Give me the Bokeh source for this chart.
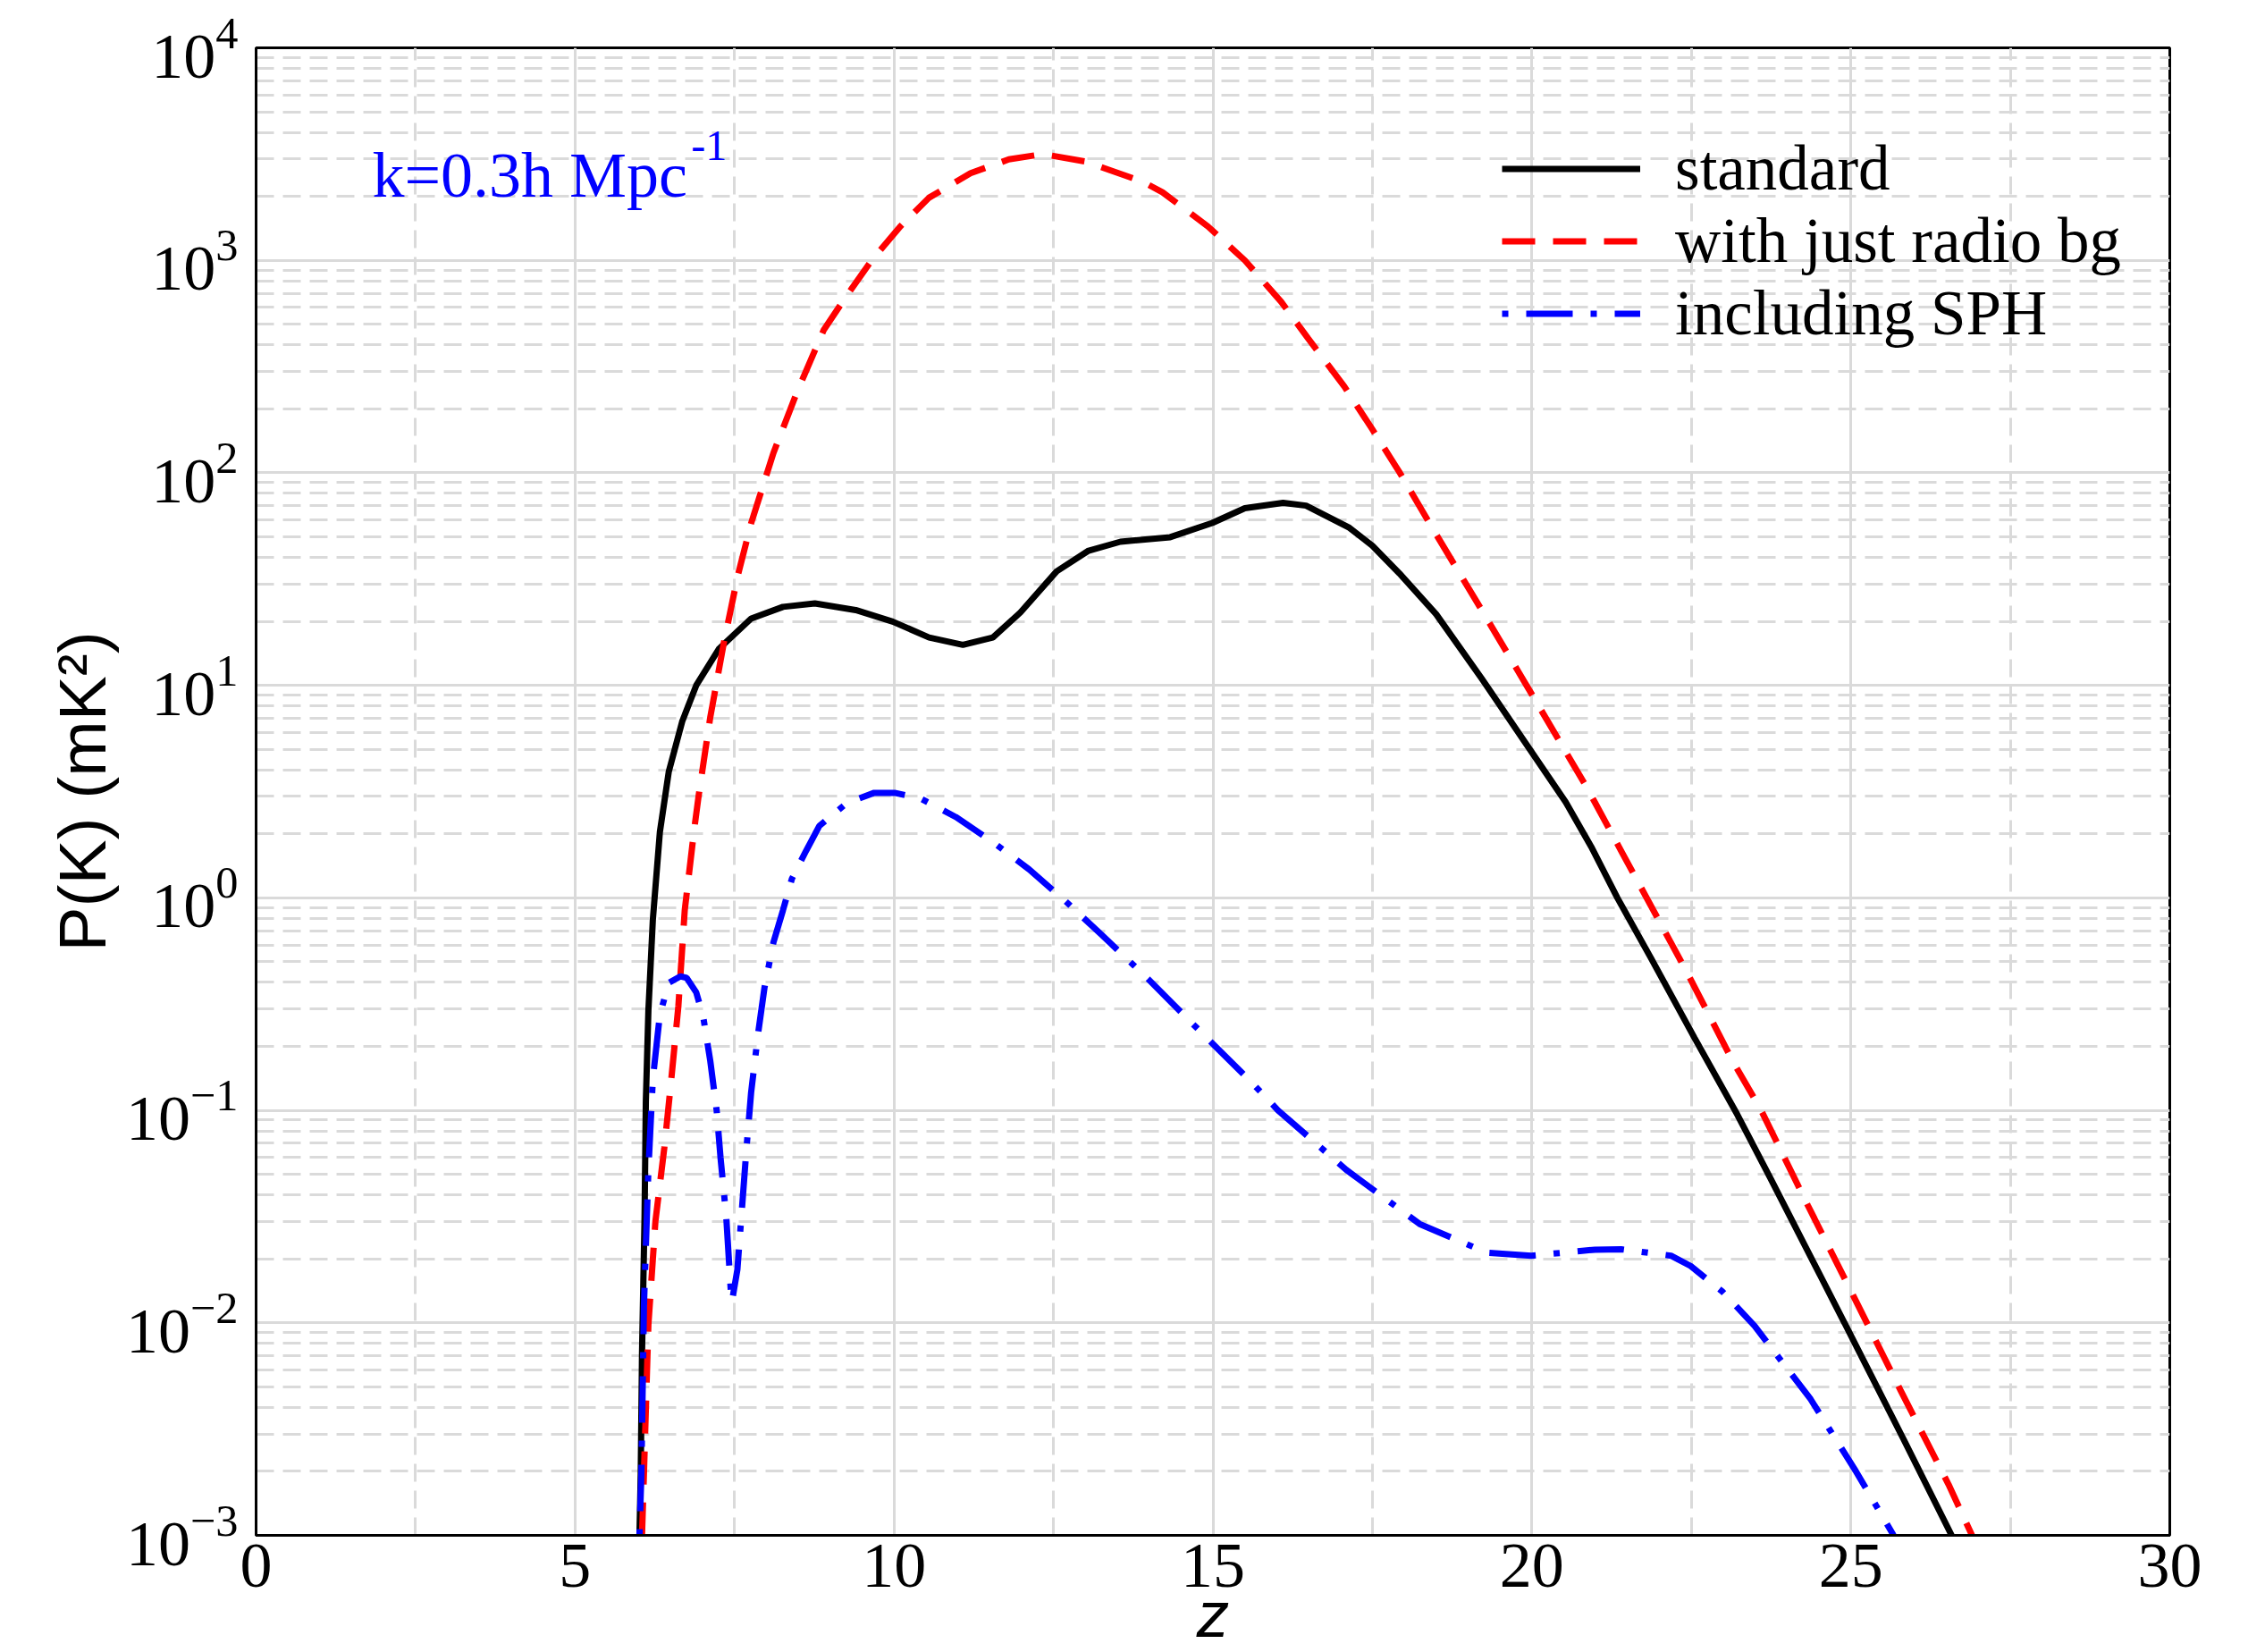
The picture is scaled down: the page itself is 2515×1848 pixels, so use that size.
from bokeh.plotting import figure
from bokeh.models import FixedTicker, Label, Legend, LegendItem, LogTickFormatter
from bokeh.embed import file_html
from bokeh.resources import INLINE

# ---- data (z, P(K) in mK^2) ----
z_standard = [6.01, 6.03, 6.05, 6.09, 6.11, 6.15, 6.22, 6.33, 6.47, 6.68, 6.90, 7.26,
              7.76, 8.26, 8.76, 9.40, 9.98, 10.55, 11.08, 11.55, 11.98, 12.55, 13.05,
              13.55, 14.33, 14.99, 15.5, 16.1, 16.46, 17.14, 17.50, 17.92, 18.5, 19.21,
              19.92, 20.53, 20.93, 21.34, 21.86, 22.55, 23.22, 23.74, 24.90, 25.83, 26.58]
p_standard = [1.0e-3, 1.95e-3, 7.2e-3, 3.16e-2, 0.11, 0.295, 0.79, 2.04, 3.93, 6.76, 10.0, 14.9,
              20.6, 23.4, 24.3, 22.6, 19.95, 16.8, 15.5, 16.8, 22.0, 34.4, 43.0,
              47.4, 49.8, 58.1, 68.2, 72.3, 70.1, 55.1, 45.4, 33.7, 21.6, 10.8,
              5.25, 2.82, 1.74, 1.0, 0.525, 0.219, 0.0955, 0.0479, 0.0100, 2.82e-3, 1.0e-3]

z_radio = [6.05, 6.08, 6.15, 6.26, 6.40, 6.51, 6.62, 6.72, 6.87, 6.94, 7.12, 7.33, 7.55,
           7.76, 8.11, 8.47, 8.90, 9.25, 9.65, 10.1, 10.55, 11.2, 11.8, 12.33, 13.0, 13.9,
           14.21, 14.92, 15.5, 16.07, 16.49, 17.06, 17.5, 17.93, 18.5, 19.21, 20.06,
           20.86, 21.42, 22.43, 23.15, 23.58, 24.33, 25.05, 25.78, 26.53, 26.9]
p_radio = [1.0e-3, 1.95e-3, 9.8e-3, 0.030, 0.0668, 0.141, 0.309, 0.875, 2.12, 3.06, 7.08, 15.7, 32.7,
           57.8, 124, 236, 471, 676, 1000, 1445, 1972, 2570, 2985, 3162, 2917, 2344,
           2089, 1445, 1000, 638, 430, 255, 160, 100, 51.3, 22.7, 8.45,
           3.31, 1.62, 0.447, 0.170, 0.102, 0.0355, 0.0132, 4.81e-3, 1.74e-3, 1.0e-3]

z_sph = [6.01, 6.04, 6.08, 6.15, 6.22, 6.33, 6.47, 6.65, 6.75, 6.90, 7.01, 7.12, 7.22,
         7.28, 7.37, 7.44, 7.46, 7.545, 7.62, 7.69, 7.76, 7.87, 7.97, 8.11, 8.26, 8.40,
         8.62, 8.83, 9.26, 9.69, 10.01, 10.41, 10.97, 11.55, 12.12, 12.69, 13.26, 13.98,
         14.69, 15.61, 16.02, 17.09, 18.24, 19.29, 19.99, 20.99, 21.4, 22.18, 22.49,
         22.99, 23.49, 24.37, 25.08, 25.67]
p_sph = [1.0e-3, 1.95e-3, 0.0120, 0.0525, 0.141, 0.282, 0.398, 0.427, 0.420, 0.359, 0.275, 0.171, 0.100,
         0.0603, 0.0316, 0.0145, 0.0126, 0.0178, 0.0355, 0.0676, 0.121, 0.230, 0.378, 0.617, 0.875, 1.23,
         1.66, 2.18, 2.79, 3.12, 3.12, 2.94, 2.40, 1.83, 1.36, 0.964, 0.668, 0.416,
         0.254, 0.135, 0.100, 0.0525, 0.0292, 0.0214, 0.0207, 0.0221, 0.0222, 0.0207, 0.0185,
         0.0140, 9.68e-3, 4.37e-3, 2.0e-3, 1.0e-3]

series_labels = ["standard", "with just radio bg", "including SPH"]

x_ticks = [0, 5, 10, 15, 20, 25, 30]
x_minor_ticks = [2.5, 7.5, 12.5, 17.5, 22.5, 27.5]
y_ticks = [1e-3, 1e-2, 1e-1, 1e0, 1e1, 1e2, 1e3, 1e4]
y_minor_ticks = [m * d for d in y_ticks[:-1] for m in range(2, 10)]

SERIF = "Liberation Serif"
SANS = "Liberation Sans"
GRID = "#dadada"

p = figure(width=2515, height=1848, x_range=(0, 30), y_range=(1e-3, 1e4),
           y_axis_type="log", output_backend="svg", toolbar_location=None,
           min_border_left=286, min_border_right=88, min_border_top=53,
           min_border_bottom=130)
p.background_fill_color = "white"
p.border_fill_color = "white"
p.outline_line_color = "black"
p.outline_line_width = 3

p.xaxis.ticker = FixedTicker(ticks=x_ticks, minor_ticks=x_minor_ticks)
p.yaxis.ticker = FixedTicker(ticks=y_ticks, minor_ticks=y_minor_ticks)
p.yaxis.formatter = LogTickFormatter()

for ax in (p.xaxis[0], p.yaxis[0]):
    ax.major_tick_line_color = None
    ax.minor_tick_line_color = None
    ax.major_tick_out = 0
    ax.major_tick_in = 0
    ax.minor_tick_out = 0
    ax.minor_tick_in = 0
    ax.axis_line_color = "black"
    ax.axis_line_width = 3
    ax.major_label_text_font = SERIF
    ax.major_label_text_font_size = "72px"
    ax.major_label_text_color = "black"
p.xaxis.major_label_standoff = 10
p.xaxis.axis_label = "z"
p.xaxis.axis_label_text_font = SANS
p.xaxis.axis_label_text_font_style = "italic"
p.xaxis.axis_label_text_font_size = "73px"
p.xaxis.axis_label_text_color = "black"
p.xaxis.axis_label_standoff = -13
p.yaxis.major_label_standoff = 20
p.yaxis.axis_label = "P(K) (mK²)"
p.yaxis.axis_label_text_font = SANS
p.yaxis.axis_label_text_font_style = "normal"
p.yaxis.axis_label_text_font_size = "75px"
p.yaxis.axis_label_text_color = "black"
p.yaxis.axis_label_standoff = 4

for g in (p.xgrid[0], p.ygrid[0]):
    g.grid_line_color = GRID
    g.grid_line_width = 3
    g.minor_grid_line_color = GRID
    g.minor_grid_line_width = 3
    g.minor_grid_line_dash = "20 10"

r_std = p.line(z_standard, p_standard, line_color="black", line_width=7)
r_radio = p.line(z_radio, p_radio, line_color="red", line_width=7, line_dash="37 20")
r_sph = p.line(z_sph, p_sph, line_color="blue", line_width=7, line_dash="7 20 52 20")

legend = Legend(items=[LegendItem(label=series_labels[0], renderers=[r_std]),
                       LegendItem(label=series_labels[1], renderers=[r_radio]),
                       LegendItem(label=series_labels[2], renderers=[r_sph])],
                location=(1394, 1326), glyph_width=155, glyph_height=79,
                label_height=79, label_standoff=39, spacing=0, padding=0, margin=0,
                label_text_font=SERIF, label_text_font_size="71px",
                label_text_color="black",
                background_fill_alpha=0, border_line_alpha=0)
p.add_layout(legend)

p.add_layout(Label(x=1.82, y=2523, text="k=0.3h Mpc", text_font=SERIF,
                   text_font_size="72px", text_color="blue",
                   text_baseline="alphabetic"))
p.add_layout(Label(x=6.82, y=3470, text="-1", text_font=SERIF,
                   text_font_size="48px", text_color="blue",
                   text_baseline="alphabetic"))

open("out.html", "w").write(file_html(p, INLINE))
